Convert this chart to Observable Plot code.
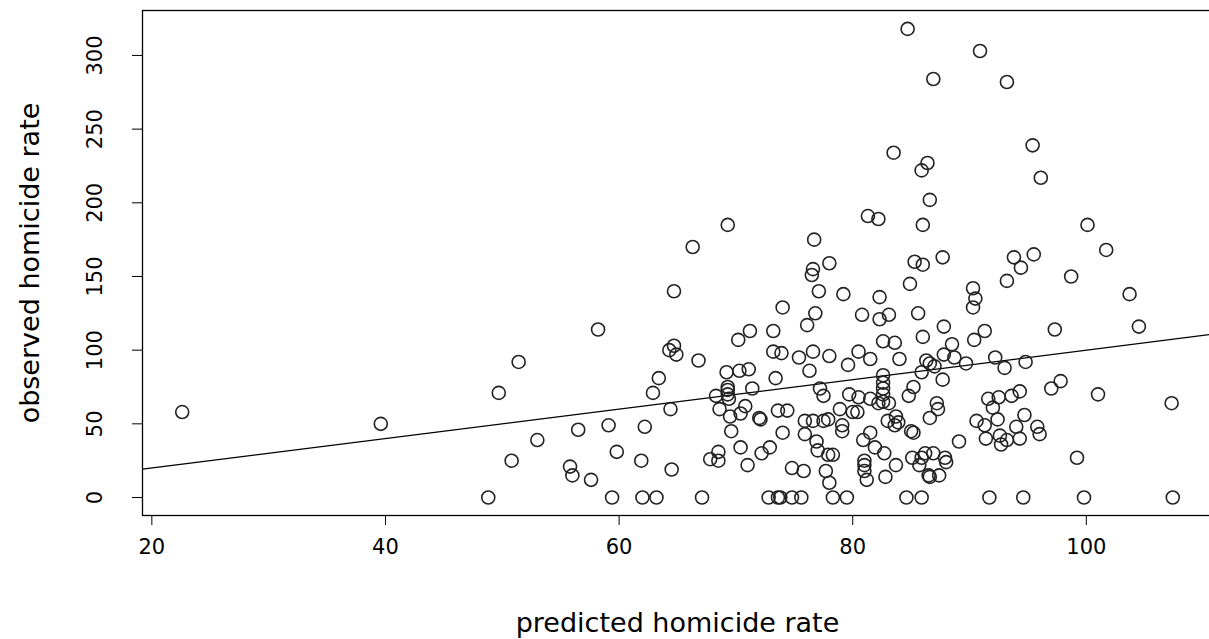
<!DOCTYPE html>
<html><head><meta charset="utf-8">
<script src="https://cdn.jsdelivr.net/npm/d3@7"></script>
<script src="https://cdn.jsdelivr.net/npm/@observablehq/plot@0.6"></script>
<style>html,body{margin:0;padding:0;background:#fff;overflow:hidden}</style>
</head><body><div id="chart"></div>
<script>
const predicted = [22.6,39.6,48.8,49.7,50.8,51.4,53.0,55.8,56.0,56.5,57.6,58.2,59.1,59.4,59.8,61.9,62.0,62.2,62.9,63.2,63.4,64.3,64.7,64.9,64.4,64.5,64.7,66.3,66.8,67.1,67.8,68.5,68.5,68.3,68.6,69.2,69.3,69.3,69.3,69.3,69.4,69.5,69.6,70.2,70.3,70.4,70.4,70.8,71.0,71.1,71.2,71.4,72.0,72.1,72.2,72.8,72.9,73.2,73.2,73.4,73.6,73.6,73.8,73.9,74.0,74.0,74.4,74.8,74.8,75.4,75.6,75.8,75.9,75.9,76.1,76.3,76.5,76.6,76.6,76.6,76.7,76.8,76.9,77.0,77.1,77.2,77.5,77.5,77.7,77.9,77.9,78.0,78.0,78.0,78.3,78.3,78.9,79.1,79.1,79.2,79.5,79.6,79.7,80.0,80.4,80.5,80.5,80.8,80.9,81.0,81.0,81.0,81.2,81.3,81.5,81.5,81.5,81.9,82.2,82.2,82.3,82.3,82.6,82.6,82.6,82.6,82.6,82.6,82.7,82.8,83.0,83.1,83.1,83.5,83.6,83.6,83.7,83.7,83.9,84.0,84.6,84.7,84.8,84.9,85.0,85.1,85.2,85.2,85.3,85.6,85.7,85.9,85.9,85.9,85.9,86.0,86.0,86.0,86.2,86.3,86.4,86.5,86.6,86.6,86.6,86.6,86.9,86.9,87.0,87.2,87.3,87.4,87.7,87.7,87.8,87.8,87.9,88.0,88.5,88.7,89.1,89.7,90.3,90.5,90.3,90.4,90.6,90.9,91.3,91.3,91.4,91.6,91.7,92.0,92.2,92.4,92.5,92.6,92.7,93.0,93.2,93.2,93.2,93.6,93.8,94.0,94.3,94.3,94.4,94.6,94.7,94.8,95.4,95.5,95.8,96.0,96.1,97.0,97.3,97.8,98.7,99.2,99.8,100.1,101.0,101.7,103.7,104.5,107.3,107.4];
const observed = [58,50,0,71,25,92,39,21,15,46,12,114,49,0,31,25,0,48,71,0,81,100,103,97,60,19,140,170,93,0,26,31,25,69,60,85,75,73,70,185,67,55,45,107,86,57,34,62,22,87,113,74,54,53,30,0,34,113,99,81,59,0,0,98,129,44,59,20,0,95,0,18,52,43,117,86,151,155,99,52,175,125,38,32,140,74,69,52,18,53,29,159,96,10,29,0,60,49,45,138,0,90,70,58,58,99,68,124,39,25,22,18,12,191,94,67,44,34,189,64,136,121,106,83,78,74,70,65,30,14,52,124,64,234,105,49,55,22,51,94,0,318,69,145,45,27,75,44,160,125,22,85,27,222,0,158,185,109,30,93,227,15,202,91,54,14,284,30,89,64,60,15,163,80,116,97,27,24,104,95,38,91,142,135,129,107,52,303,113,49,40,67,0,61,95,53,68,42,36,88,282,147,39,69,163,48,72,40,156,0,56,92,239,165,48,43,217,74,114,79,150,27,0,185,70,168,138,116,64,0];
const xTicks = [20,40,60,80,100];
const yTicks = [0,50,100,150,200,250,300];
const xTitle = "predicted homicide rate";
const yTitle = "observed homicide rate";
const ablineIntercept = 0;
const ablineSlope = 1;

const xDomain = [19.2, 110.8];
const yDomain = [-12.2, 330.5];
const pts = predicted.map((x, i) => ({x, y: observed[i]}));
const linePts = xDomain.map(x => ({x, y: ablineIntercept + ablineSlope * x}));
const font = "'DejaVu Sans', sans-serif";
const tickFs = 21;
const titleFs = 27;
const chart = Plot.plot({
  width: 1209, height: 639,
  marginLeft: 142, marginRight: -3, marginTop: 10, marginBottom: 124,
  style: {fontFamily: font, fontSize: tickFs + "px", color: "#000", background: "#fff"},
  x: {domain: xDomain},
  y: {domain: yDomain},
  marks: [
    Plot.line(linePts, {x: "x", y: "y", stroke: "#000", strokeWidth: 1.3, clip: true}),
    Plot.dot(pts, {x: "x", y: "y", r: 6.5, stroke: "#222", strokeWidth: 1.6, fill: "none"}),
    Plot.frame({stroke: "#000", strokeWidth: 1.3}),
    Plot.axisX(xTicks, {tickSize: 10, tickPadding: 14, fontSize: tickFs, label: null, tickFormat: d => String(d), stroke: "#000"}),
    Plot.axisY(yTicks, {tickSize: 10, tickFormat: () => "", label: null, stroke: "#000"}),
    Plot.text(yTicks, {y: d => d, text: d => String(d), frameAnchor: "left", textAnchor: "middle", lineAnchor: "middle", dx: -47, rotate: -90, fontSize: tickFs, fill: "#000"}),
    Plot.text([xTitle], {text: d => d, frameAnchor: "bottom", textAnchor: "middle", lineAnchor: "middle", dy: 108, fontSize: titleFs, fill: "#000"}),
    Plot.text([yTitle], {text: d => d, frameAnchor: "left", textAnchor: "middle", lineAnchor: "middle", dx: -112, rotate: -90, fontSize: titleFs, fill: "#000"})
  ]
});
document.getElementById("chart").append(chart);
</script>
</body></html>
